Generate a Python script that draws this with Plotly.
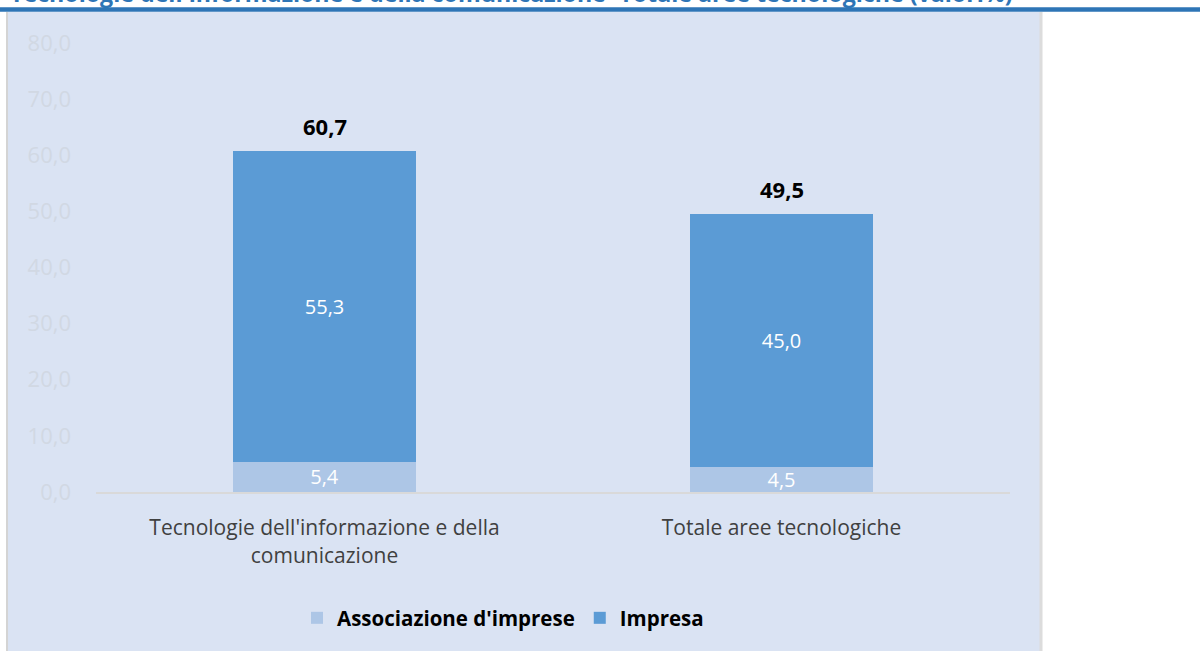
import plotly.graph_objects as go

categories = ["Tecnologie dell'informazione e della<br>comunicazione", "Totale aree tecnologiche"]
associazione = [5.4, 4.5]
impresa = [55.3, 45.0]
totals = [round(a + b, 1) for a, b in zip(associazione, impresa)]
series_names = ["Associazione d'imprese", "Impresa"]
title_text = "Tecnologie dell'informazione e della comunicazione- Totale aree tecnologiche (valori%)"

FONT = "Open Sans"
L, R, T, B = 96, 1010, 43, 492
W, H = 1200, 651

def px_x(p):
    return (p - L) / (R - L)

def px_y(p):
    return (B - p) / (B - T)

def fmt(v):
    return f"{v:.1f}".replace(".", ",")

fig = go.Figure()
fig.add_trace(go.Bar(
    name=f"<b>{series_names[0]}</b>", x=categories, y=associazione,
    marker=dict(color="#ADC6E6", line=dict(width=0)),
    text=[fmt(v) for v in associazione],
    textposition="inside", insidetextanchor="middle", constraintext="none",
    textfont=dict(color="white", size=20, family=FONT),
))
fig.add_trace(go.Bar(
    name=f"<b>{series_names[1]}</b>", x=categories, y=impresa,
    marker=dict(color="#5B9BD5", line=dict(width=0)),
    text=[fmt(v) for v in impresa],
    textposition="inside", insidetextanchor="middle", constraintext="none",
    textfont=dict(color="white", size=20, family=FONT),
))

annotations = []
for c, t in zip(categories, totals):
    annotations.append(dict(
        x=c, y=t, xref="x", yref="y", text=f"<b>{fmt(t)}</b>",
        showarrow=False, yanchor="middle", yshift=25,
        font=dict(color="black", size=22, family=FONT),
    ))
annotations.append(dict(
    text=f"<b>{title_text}</b>", xref="paper", yref="paper",
    x=px_x(8), y=px_y(11), xanchor="left", yanchor="bottom",
    showarrow=False, font=dict(size=23.2, color="#2E75B6", family=FONT),
))

shapes = [
    dict(type="rect", xref="paper", yref="paper",
         x0=px_x(8), x1=px_x(1040), y0=px_y(H), y1=px_y(12),
         fillcolor="#DAE3F3", line=dict(width=0), layer="below"),
    dict(type="rect", xref="paper", yref="paper",
         x0=px_x(0), x1=px_x(1200), y0=px_y(11.7), y1=px_y(7.3),
         fillcolor="#2E75B6", line=dict(width=0), layer="below"),
    dict(type="line", xref="paper", yref="paper",
         x0=px_x(7), x1=px_x(7), y0=px_y(H), y1=px_y(12),
         line=dict(color="#D4D4D4", width=2), layer="below"),
    dict(type="line", xref="paper", yref="paper",
         x0=px_x(1041), x1=px_x(1041), y0=px_y(H), y1=px_y(12),
         line=dict(color="#DCDCDC", width=3), layer="below"),
]

fig.update_layout(
    width=W, height=H,
    margin=dict(l=L, r=W - R, t=T, b=H - B, pad=0),
    paper_bgcolor="white", plot_bgcolor="rgba(0,0,0,0)",
    barmode="stack", bargap=0.6,
    separators=",.",
    font=dict(family=FONT, size=18, color="#404040"),
    showlegend=True,
    legend=dict(orientation="h", x=px_x(503), xanchor="center",
                y=px_y(618), yanchor="middle",
                font=dict(size=20.5, color="black", family=FONT),
                bgcolor="rgba(0,0,0,0)", traceorder="normal"),
    shapes=shapes,
    annotations=annotations,
)
fig.update_xaxes(showline=True, linecolor="#D9D9D9", linewidth=2,
                 showgrid=False, ticks="", ticklabelstandoff=16,
                 tickfont=dict(size=21, color="#404040"))
fig.update_yaxes(range=[0, 80], dtick=10, tickformat=".1f",
                 showgrid=False, zeroline=False, showline=False,
                 ticklabelstandoff=24,
                 tickfont=dict(size=22, color="#D1D8E3"))

fig.write_html("out.html", config={"displayModeBar": False},
               post_script="document.body.style.margin='0';")
